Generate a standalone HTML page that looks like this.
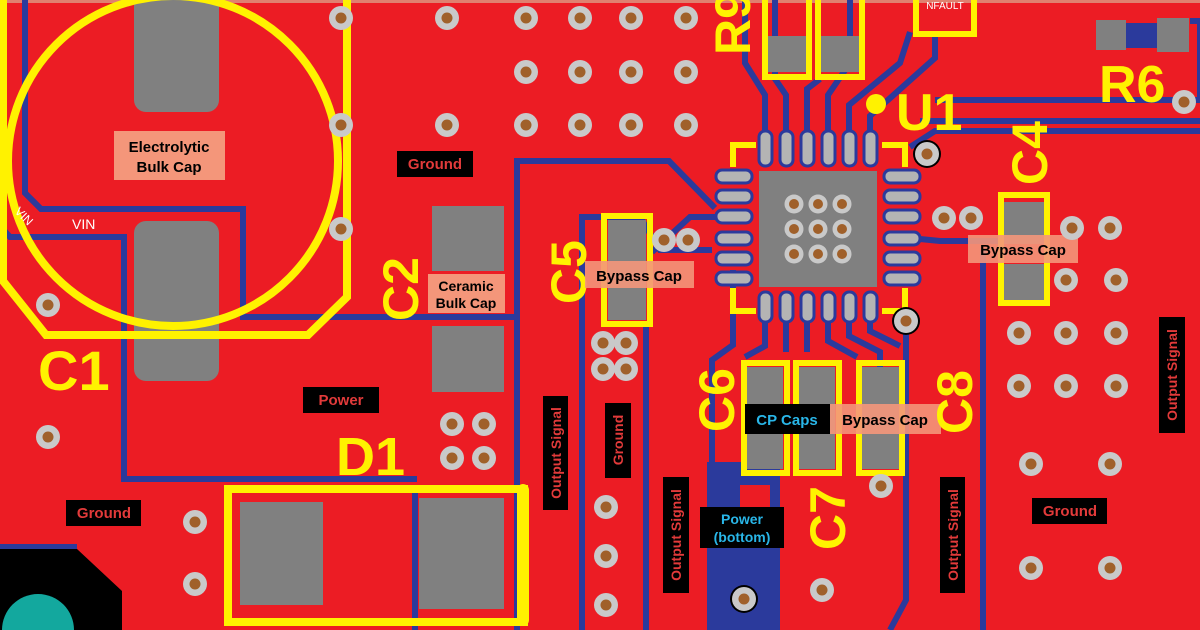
<!DOCTYPE html>
<html><head><meta charset="utf-8"><style>
html,body{margin:0;padding:0;background:#ec1c24;width:1200px;height:630px;overflow:hidden;}
svg{display:block}
.lb{font-family:"Liberation Sans",sans-serif;font-weight:bold;}
</style></head><body>
<svg width="1200" height="630" viewBox="0 0 1200 630" xmlns="http://www.w3.org/2000/svg" overflow="hidden">
<defs>
<g id="v"><circle r="12" fill="#c9c9c9"/><circle r="5.5" fill="#a0602a"/></g>
<g id="t"><circle r="9.5" fill="#c9c9c9"/><circle r="5" fill="#a0602a"/></g>
</defs>
<rect width="1200" height="630" fill="#ec1c24"/>
<rect x="0" y="0" width="1200" height="3" fill="#e08070"/>
<g fill="none" stroke="#2b3a9c" stroke-width="6">
<polyline points="25,0 25,193 41,209 243,209 243,317 517,317"/>
<polyline points="0,226 10,237 124,237 124,479 417,479"/>
<polyline points="517,630 517,161 669,161 715,208"/>
<polyline points="582,630 582,217 640,217 660,250 712,250"/>
<polyline points="0,547 77,547"/>
<polyline points="415,486 415,630"/>
<polyline points="646,325 646,630"/>
<polyline points="733,270 733,345 712,360 712,630"/>
<polyline points="906,321 906,600 890,630"/>
<polyline points="983,250 983,630"/>
<polyline points="935,100 1200,100"/>
<polyline points="920,121 1200,121"/>
<polyline points="910,147 935,131 1200,131"/>
<polyline points="765,131 765,95 745,63 745,0"/>
<polyline points="786,131 786,95 775,79 775,0"/>
<polyline points="807,131 807,89 820,79"/>
<polyline points="828,131 828,95 850,63 850,0"/>
<polyline points="849,131 849,105 900,63 910,32"/>
<polyline points="870,131 870,116 935,58 935,37"/>
<polyline points="765,321 765,346 745,357"/>
<polyline points="786,321 786,352"/>
<polyline points="807,321 807,352"/>
<polyline points="828,321 828,341 857,357"/>
<polyline points="849,321 849,336 880,352 880,462"/>
<polyline points="870,321 870,331 900,346"/>
<polyline points="920,239 940,241 1000,241"/>
<polyline points="1126,35 1157,35"/>
<polyline points="1190,21 1200,21 1200,100"/>
<polyline points="717,217 690,217 652,252"/>
</g>
<path d="M707,462 L780,462 L780,630 L707,630 Z" fill="#2b3a9c"/>
<path d="M740,485 L770,485 L770,525 L740,525Z" fill="#ec1c24"/>
<path d="M0,549 L77,549 L122,591 L122,630 L0,630Z" fill="#000"/>
<circle cx="38" cy="630" r="36" fill="#13a89e"/>
<rect x="134" y="-10" width="85" height="122" rx="12" fill="#808080"/>
<rect x="134" y="221" width="85" height="160" rx="12" fill="#808080"/>
<circle cx="173" cy="161" r="165" fill="none" stroke="#fff200" stroke-width="8"/>
<polyline points="3,0 3,281 46,335 308,335 347,297 347,0" fill="none" stroke="#fff200" stroke-width="8"/>
<rect x="114" y="131" width="111" height="49" fill="#f4967a"/>
<text class="lb" x="169" y="152" font-size="15" text-anchor="middle">Electrolytic</text>
<text class="lb" x="169" y="172" font-size="15" text-anchor="middle">Bulk Cap</text>
<text x="72" y="229" font-family="Liberation Sans" font-size="14" fill="#fff">VIN</text>
<text x="14" y="212" font-family="Liberation Sans" font-size="12" fill="#fff" transform="rotate(45 14 212)">VIN</text>
<text class="lb" x="38" y="390" font-size="56" fill="#fff200">C1</text>
<rect x="432" y="206" width="72" height="65" fill="#808080"/>
<rect x="432" y="326" width="72" height="66" fill="#808080"/>
<rect x="428" y="274" width="77" height="39" fill="#f4967a"/>
<text class="lb" x="466" y="291" font-size="14" text-anchor="middle">Ceramic</text>
<text class="lb" x="466" y="308" font-size="14" text-anchor="middle">Bulk Cap</text>
<text class="lb" x="418" y="321" font-size="50" fill="#fff200" transform="rotate(-90 418 321)">C2</text>
<rect x="240" y="502" width="83" height="103" fill="#808080"/>
<rect x="419" y="498" width="85" height="111" fill="#808080"/>
<rect x="228" y="489" width="296" height="133" fill="none" stroke="#fff200" stroke-width="8"/>
<rect x="517" y="484" width="12" height="142" rx="6" fill="#fff200"/>
<text class="lb" x="336" y="475" font-size="54" fill="#fff200">D1</text>
<rect x="397" y="151" width="76" height="26" fill="#000"/>
<text class="lb" x="435" y="169" font-size="15" fill="#e23a3a" text-anchor="middle">Ground</text>
<rect x="303" y="387" width="76" height="26" fill="#000"/>
<text class="lb" x="341" y="405" font-size="15" fill="#e23a3a" text-anchor="middle">Power</text>
<rect x="66" y="500" width="75" height="26" fill="#000"/>
<text class="lb" x="104" y="518" font-size="15" fill="#e23a3a" text-anchor="middle">Ground</text>
<rect x="1032" y="498" width="75" height="26" fill="#000"/>
<text class="lb" x="1070" y="516" font-size="15" fill="#e23a3a" text-anchor="middle">Ground</text>
<rect x="543" y="396" width="25" height="114" fill="#000"/>
<text class="lb" x="561" y="453" font-size="14" fill="#e23a3a" text-anchor="middle" transform="rotate(-90 561 453)">Output Signal</text>
<rect x="605" y="403" width="26" height="75" fill="#000"/>
<text class="lb" x="623" y="440" font-size="14" fill="#e23a3a" text-anchor="middle" transform="rotate(-90 623 440)">Ground</text>
<rect x="663" y="477" width="26" height="116" fill="#000"/>
<text class="lb" x="681" y="535" font-size="14" fill="#e23a3a" text-anchor="middle" transform="rotate(-90 681 535)">Output Signal</text>
<rect x="940" y="477" width="25" height="116" fill="#000"/>
<text class="lb" x="958" y="535" font-size="14" fill="#e23a3a" text-anchor="middle" transform="rotate(-90 958 535)">Output Signal</text>
<rect x="1159" y="317" width="26" height="116" fill="#000"/>
<text class="lb" x="1177" y="375" font-size="14" fill="#e23a3a" text-anchor="middle" transform="rotate(-90 1177 375)">Output Signal</text>
<rect x="608" y="220" width="38" height="100" fill="#808080"/>
<rect x="604" y="216" width="46" height="108" fill="none" stroke="#fff200" stroke-width="6"/>
<text class="lb" x="586" y="304" font-size="50" fill="#fff200" transform="rotate(-90 586 304)">C5</text>
<rect x="585" y="261" width="109" height="27" fill="#f4967a" opacity="0.9"/>
<text class="lb" x="639" y="281" font-size="15" text-anchor="middle">Bypass Cap</text>
<rect x="768" y="36" width="40" height="36" fill="#808080"/>
<rect x="821" y="36" width="40" height="36" fill="#808080"/>
<rect x="765" y="-5" width="44" height="82" fill="none" stroke="#fff200" stroke-width="6"/>
<rect x="818" y="-5" width="44" height="82" fill="none" stroke="#fff200" stroke-width="6"/>
<text class="lb" x="750" y="55" font-size="50" fill="#fff200" transform="rotate(-90 750 55)">R9</text>
<rect x="916" y="-5" width="58" height="39" fill="none" stroke="#fff200" stroke-width="6"/>
<text x="945" y="9" font-family="Liberation Sans" font-size="10" fill="#fff" text-anchor="middle">NFAULT</text>
<rect x="1096" y="20" width="30" height="30" fill="#808080"/>
<rect x="1157" y="18" width="32" height="34" fill="#808080"/>
<rect x="1126" y="23" width="31" height="25" fill="#2b3a9c"/>
<text class="lb" x="1099" y="102" font-size="52" fill="#fff200">R6</text>
<rect x="759" y="171" width="118" height="116" fill="#808080"/>
<g fill="#b4b4b4" stroke="#2b3a9c" stroke-width="3">
<rect x="759" y="131" width="13" height="35" rx="6"/><rect x="780" y="131" width="13" height="35" rx="6"/><rect x="801" y="131" width="13" height="35" rx="6"/><rect x="822" y="131" width="13" height="35" rx="6"/><rect x="843" y="131" width="13" height="35" rx="6"/><rect x="864" y="131" width="13" height="35" rx="6"/>
<rect x="759" y="292" width="13" height="30" rx="6"/><rect x="780" y="292" width="13" height="30" rx="6"/><rect x="801" y="292" width="13" height="30" rx="6"/><rect x="822" y="292" width="13" height="30" rx="6"/><rect x="843" y="292" width="13" height="30" rx="6"/><rect x="864" y="292" width="13" height="30" rx="6"/>
<rect x="716" y="170" width="36" height="13" rx="6"/><rect x="716" y="190" width="36" height="13" rx="6"/><rect x="716" y="210" width="36" height="13" rx="6"/><rect x="716" y="232" width="36" height="13" rx="6"/><rect x="716" y="252" width="36" height="13" rx="6"/><rect x="716" y="272" width="36" height="13" rx="6"/>
<rect x="884" y="170" width="36" height="13" rx="6"/><rect x="884" y="190" width="36" height="13" rx="6"/><rect x="884" y="210" width="36" height="13" rx="6"/><rect x="884" y="232" width="36" height="13" rx="6"/><rect x="884" y="252" width="36" height="13" rx="6"/><rect x="884" y="272" width="36" height="13" rx="6"/>
</g>
<g fill="none" stroke="#fff200" stroke-width="6">
<polyline points="756,145 733,145 733,167"/><polyline points="882,145 905,145 905,167"/>
<polyline points="733,288 733,311 756,311"/><polyline points="905,288 905,311 882,311"/>
</g>
<circle cx="876" cy="104" r="10" fill="#fff200"/>
<text class="lb" x="896" y="130" font-size="52" fill="#fff200">U1</text>
<rect x="1004" y="202" width="40" height="42" fill="#808080"/>
<rect x="1004" y="264" width="40" height="37" fill="#808080"/>
<rect x="1001" y="195" width="46" height="108" fill="none" stroke="#fff200" stroke-width="6"/>
<text class="lb" x="1047" y="185" font-size="50" fill="#fff200" transform="rotate(-90 1047 185)">C4</text>
<rect x="968" y="235" width="110" height="28" fill="#f4967a" opacity="0.9"/>
<text class="lb" x="1023" y="255" font-size="15" text-anchor="middle">Bypass Cap</text>
<rect x="747" y="367" width="36" height="102" fill="#808080"/>
<rect x="799" y="367" width="36" height="102" fill="#808080"/>
<rect x="862" y="367" width="37" height="102" fill="#808080"/>
<rect x="744" y="363" width="43" height="110" fill="none" stroke="#fff200" stroke-width="6"/>
<rect x="796" y="363" width="43" height="110" fill="none" stroke="#fff200" stroke-width="6"/>
<rect x="859" y="363" width="43" height="110" fill="none" stroke="#fff200" stroke-width="6"/>
<rect x="745" y="404" width="85" height="30" fill="#000"/>
<text class="lb" x="787" y="425" font-size="15" fill="#29b6e8" text-anchor="middle">CP Caps</text>
<rect x="830" y="404" width="111" height="30" fill="#f4967a" opacity="0.9"/>
<text class="lb" x="885" y="425" font-size="15" text-anchor="middle">Bypass Cap</text>
<text class="lb" x="734" y="432" font-size="50" fill="#fff200" transform="rotate(-90 734 432)">C6</text>
<text class="lb" x="845" y="550" font-size="50" fill="#fff200" transform="rotate(-90 845 550)">C7</text>
<text class="lb" x="972" y="434" font-size="50" fill="#fff200" transform="rotate(-90 972 434)">C8</text>
<rect x="700" y="507" width="84" height="41" fill="#000"/>
<text class="lb" x="742" y="524" font-size="14" fill="#29b6e8" text-anchor="middle">Power</text>
<text class="lb" x="742" y="542" font-size="14" fill="#29b6e8" text-anchor="middle">(bottom)</text>
<circle cx="927" cy="154" r="14" fill="#000"/>
<circle cx="906" cy="321" r="14" fill="#000"/>
<circle cx="744" cy="599" r="14" fill="#000"/>
<g>
<use href="#v" x="341" y="18"/><use href="#v" x="341" y="125"/><use href="#v" x="341" y="229"/>
<use href="#v" x="447" y="18"/><use href="#v" x="526" y="18"/><use href="#v" x="580" y="18"/><use href="#v" x="631" y="18"/><use href="#v" x="686" y="18"/>
<use href="#v" x="526" y="72"/><use href="#v" x="580" y="72"/><use href="#v" x="631" y="72"/><use href="#v" x="686" y="72"/>
<use href="#v" x="447" y="125"/><use href="#v" x="526" y="125"/><use href="#v" x="580" y="125"/><use href="#v" x="631" y="125"/><use href="#v" x="686" y="125"/>
<use href="#v" x="48" y="305"/><use href="#v" x="48" y="437"/>
<use href="#v" x="452" y="424"/><use href="#v" x="484" y="424"/><use href="#v" x="452" y="458"/><use href="#v" x="484" y="458"/>
<use href="#v" x="195" y="522"/><use href="#v" x="195" y="584"/>
<use href="#v" x="664" y="240"/><use href="#v" x="688" y="240"/>
<use href="#v" x="603" y="343"/><use href="#v" x="626" y="343"/><use href="#v" x="603" y="369"/><use href="#v" x="626" y="369"/>
<use href="#v" x="606" y="507"/><use href="#v" x="606" y="556"/><use href="#v" x="606" y="605"/>
<use href="#t" x="794" y="204"/><use href="#t" x="818" y="204"/><use href="#t" x="842" y="204"/>
<use href="#t" x="794" y="229"/><use href="#t" x="818" y="229"/><use href="#t" x="842" y="229"/>
<use href="#t" x="794" y="254"/><use href="#t" x="818" y="254"/><use href="#t" x="842" y="254"/>
<use href="#v" x="927" y="154"/><use href="#v" x="906" y="321"/><use href="#v" x="744" y="599"/>
<use href="#v" x="944" y="218"/><use href="#v" x="971" y="218"/>
<use href="#v" x="1184" y="102"/>
<use href="#v" x="1072" y="228"/><use href="#v" x="1110" y="228"/>
<use href="#v" x="1066" y="280"/><use href="#v" x="1116" y="280"/>
<use href="#v" x="1019" y="333"/><use href="#v" x="1066" y="333"/><use href="#v" x="1116" y="333"/>
<use href="#v" x="1019" y="386"/><use href="#v" x="1066" y="386"/><use href="#v" x="1116" y="386"/>
<use href="#v" x="1031" y="464"/><use href="#v" x="1110" y="464"/>
<use href="#v" x="1031" y="568"/><use href="#v" x="1110" y="568"/>
<use href="#v" x="881" y="486"/><use href="#v" x="822" y="590"/>
</g>
</svg>
</body></html>
